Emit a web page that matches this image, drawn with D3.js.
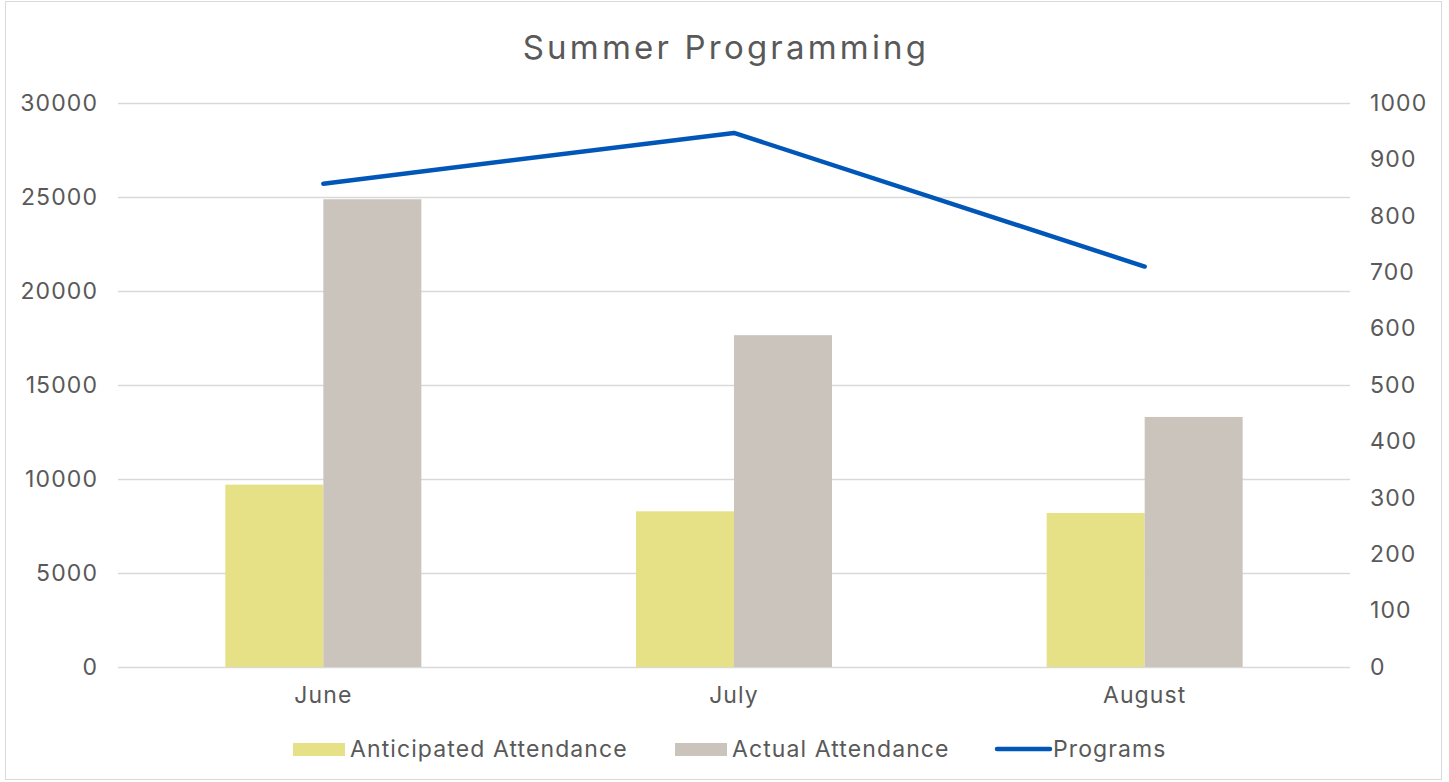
<!DOCTYPE html>
<html>
<head>
<meta charset="utf-8">
<script src="https://cdn.jsdelivr.net/npm/d3@7"></script>
<style>
  body { margin: 0; background: #fff; }
  text { font-family: Inter, "Open Sans", sans-serif; fill: #595959; }
</style>
</head>
<body>
<div id="chart"></div>
<script>
const months = ["June", "July", "August"];
const anticipated = [9700, 8280, 8190];
const actual = [24880, 17650, 13300];
const programs = [857, 947, 710];
const leftTicks = [0, 5000, 10000, 15000, 20000, 25000, 30000];
const rightTicks = [0, 100, 200, 300, 400, 500, 600, 700, 800, 900, 1000];

const W = 1449, H = 782;
const plot = { left: 118, right: 1350, top: 103, bottom: 667 };
const colors = { anticipated: "#E6E086", actual: "#CBC4BD", line: "#0057B8" };

const svg = d3.select("#chart").append("svg")
    .attr("width", W)
    .attr("height", H);

// outer border
svg.append("rect")
    .attr("x", 5.5).attr("y", 1.5)
    .attr("width", 1436).attr("height", 778)
    .attr("fill", "#fff")
    .attr("stroke", "#D9D9D9");

const x = d3.scaleBand(months, [plot.left, plot.right]).paddingInner(0).paddingOuter(0);
const xSub = d3.scaleBand(["anticipated", "actual"], [0, 196]);
const yL = d3.scaleLinear([0, 30000], [plot.bottom, plot.top]);
const yR = d3.scaleLinear([0, 1000], [plot.bottom, plot.top]);

// gridlines
svg.append("g")
    .selectAll("line")
    .data(leftTicks)
    .join("line")
    .attr("x1", plot.left).attr("x2", plot.right)
    .attr("y1", d => Math.round(yL(d)) + 0.5)
    .attr("y2", d => Math.round(yL(d)) + 0.5)
    .attr("stroke", "#D9D9D9")
    .attr("stroke-width", 1.5);

function styleTicks(g) {
    g.select(".domain").remove();
    g.selectAll("text")
        .style("font-size", "23px")
        .style("letter-spacing", "1.1px")
        .attr("fill", "#595959");
}

// left axis
svg.append("g")
    .attr("transform", `translate(${plot.left - 17},0)`)
    .call(d3.axisLeft(yL).tickValues(leftTicks).tickSize(0).tickFormat(d3.format("d")))
    .call(styleTicks);

// right axis
svg.append("g")
    .attr("transform", `translate(${plot.right + 17},0)`)
    .call(d3.axisRight(yR).tickValues(rightTicks).tickSize(0).tickFormat(d3.format("d")))
    .call(styleTicks);

// bars
const groups = svg.append("g")
    .selectAll("g")
    .data(months.map((m, i) => ({ month: m, anticipated: anticipated[i], actual: actual[i] })))
    .join("g")
    .attr("transform", d => `translate(${x(d.month) + x.bandwidth() / 2 - 98},0)`);

groups.selectAll("rect")
    .data(d => ["anticipated", "actual"].map(k => ({ key: k, value: d[k] })))
    .join("rect")
    .attr("x", d => xSub(d.key))
    .attr("width", xSub.bandwidth())
    .attr("y", d => yL(d.value))
    .attr("height", d => yL(0) - yL(d.value))
    .attr("fill", d => colors[d.key]);

// category labels
svg.append("g")
    .attr("transform", `translate(0,${plot.bottom + 17})`)
    .call(d3.axisBottom(x).tickSize(0))
    .call(styleTicks);

// line
const line = d3.line()
    .x((d, i) => x(months[i]) + x.bandwidth() / 2)
    .y(d => yR(d));

svg.append("path")
    .datum(programs)
    .attr("d", line)
    .attr("fill", "none")
    .attr("stroke", colors.line)
    .attr("stroke-width", 4.5)
    .attr("stroke-linecap", "round")
    .attr("stroke-linejoin", "round");

// title
svg.append("text")
    .attr("x", 726)
    .attr("y", 59)
    .attr("text-anchor", "middle")
    .style("font-size", "33px")
    .style("letter-spacing", "3.2px")
    .text("Summer Programming");

// legend
const legendItems = [
    { label: "Anticipated Attendance", type: "rect", color: colors.anticipated, x: 293 },
    { label: "Actual Attendance", type: "rect", color: colors.actual, x: 675 },
    { label: "Programs", type: "line", color: colors.line, x: 996 }
];
const legend = svg.append("g").attr("transform", "translate(0,749)");
legendItems.forEach(item => {
    if (item.type === "rect") {
        legend.append("rect")
            .attr("x", item.x).attr("y", -6)
            .attr("width", 52).attr("height", 13)
            .attr("fill", item.color);
    } else {
        legend.append("line")
            .attr("x1", item.x + 1).attr("x2", item.x + 54)
            .attr("y1", 0).attr("y2", 0)
            .attr("stroke", item.color)
            .attr("stroke-width", 4.5)
            .attr("stroke-linecap", "round");
    }
    legend.append("text")
        .attr("x", item.x + 57)
        .attr("y", 8)
        .style("font-size", "23px")
        .style("letter-spacing", "1.1px")
        .text(item.label);
});
</script>
</body>
</html>
